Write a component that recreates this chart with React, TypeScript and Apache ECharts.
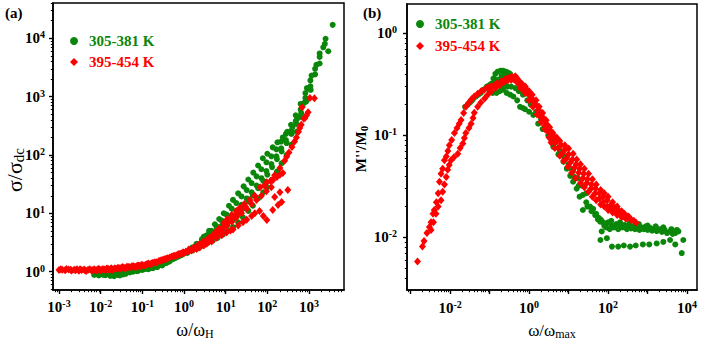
import React, { useEffect, useRef } from 'react';
import * as echarts from 'echarts';

const FONT = 'Liberation Serif';
const GREEN = '#0a870a';
const RED = '#ff0000';
const NAMES = ['305-381 K', '395-454 K'];

// ---------- tick values ----------
const xMajorA = [1e-3, 1e-2, 1e-1, 1, 10, 100, 1000];
const yMajorA = [1, 10, 100, 1000, 10000];
const xMajorB = [1e-3, 1e-2, 1e-1, 1, 10, 100, 1000, 10000];
const xLabelB = [1e-2, 1, 100, 10000];
const yMajorB = [0.01, 0.1, 1];

// ---------- panel (a): sigma / sigma_dc vs omega / omega_H ----------
const sigmaGreen: number[][] = [
  [0.007,0.88],[0.008,0.92],[0.009,0.86],[0.01,0.95],[0.011,0.9],[0.012,1.0],[0.013,0.87],[0.015,0.93],
  [0.017,0.85],[0.019,0.9],[0.021,0.84],[0.023,0.97],[0.025,0.88],[0.028,1.02],[0.03,0.92],[0.033,0.95],
  [0.037,1.0],[0.04,0.92],[0.045,1.05],[0.05,0.97],[0.055,1.08],[0.06,1.0],[0.07,1.1],[0.08,1.04],
  [0.09,1.12],[0.1,1.07],[0.12,1.15],[0.14,1.1],[0.16,1.2],[0.18,1.15],[0.2,1.22],[0.23,1.2],
  [0.26,1.3],[0.3,1.28],[0.35,1.4],[0.4,1.45],[0.45,1.5],[0.5,1.6],[0.6,1.7],[0.7,1.8],
  [0.8,1.9],[0.9,1.95],[1.0,2.05],[1.2,2.2],[1.4,2.4],[1.6,2.6],
  [0.0075,0.95],[0.0095,0.9],[0.012,0.88],[0.014,0.95],[0.016,0.9],[0.018,0.98],[0.02,0.88],[0.022,0.92],
  [0.026,0.95],[0.029,0.86],[0.035,0.9],[0.042,0.98],[0.048,1.0],[0.058,1.03],[0.065,1.05],[0.075,1.02],
  [0.085,1.08],[0.11,1.1],[0.13,1.12],[0.15,1.15],[0.17,1.18],[0.22,1.25],[0.28,1.3],[0.33,1.38],
  [0.38,1.42],[0.55,1.65],[0.65,1.75],[0.75,1.85],[0.85,1.92],
  [1.2,2.1],[1.6,2.3],[2.1,2.5],[2.8,2.8],[3.7,3.1],[4.9,3.4],[6.4,3.8],[8.5,4.3],[11,5],[15,5.8],
  [20,7],[26,8.5],[35,11],[45,13.5],[60,18],[80,23],[100,28],[130,38],[170,52],[220,72],[290,100],
  [380,150],[500,250],[600,450],[800,810],
  [2.1,2.7],[2.8,3],[3.7,3.4],[4.9,3.9],[6.4,4.5],[8.5,5.3],[11,6.3],[15,7.8],[20,9.5],[26,12],
  [35,16],[45,20],[60,27],[80,36],[100,46],[130,62],[170,85],[220,115],[290,160],[380,230],[500,340],
  [650,520],[850,820],[1100,1300],
  [1.5,2.5],[2,2.8],[2.7,3.3],[3.5,3.8],[4.6,4.4],[6,5.1],[8,6.1],[10.5,7.3],[14,9],[18,11],[24,14],
  [32,18],[42,23],[55,30],[72,40],[95,53],[125,70],[165,95],[215,130],[280,180],[370,260],[480,380],
  [630,600],[820,950],[1080,1500],[1400,2400],[1800,3700],
  [2,3],[2.7,3.6],[3.5,4.2],[4.6,5],[6,6],[8,7.5],[10.5,9.5],[14,12],[18,15],[24,19.5],[32,25],
  [42,33],[55,43],[72,57],[95,75],[125,95],[165,125],[215,170],[280,230],[370,330],[480,480],
  [630,750],[820,1150],[1080,1900],[1400,3000],[1800,4800],[2400,8000],
  [3,4],[4,5],[5.5,6.5],[7,8],[9,10],[12,13.5],[15,17],[20,22],[27,29],[35,38],[46,50],[60,66],
  [78,88],[100,105],[135,135],[175,165],[235,200],[300,250],[400,300],[520,420],[700,700],[890,1400],
  [1150,2300],[1500,3500],[1800,5500],[2200,7000],[2500,9800],[2900,6000],[3700,17000],
];

const sigmaRed: number[][] = [
  [0.001,1.07],[0.0012,1.08],[0.0014,1.06],[0.0017,1.09],[0.002,1.05],[0.0023,1.08],[0.0027,1.1],
  [0.003,1.04],[0.0035,1.07],[0.004,1.09],[0.0045,1.03],[0.005,1.08],[0.006,1.05],[0.007,1.1],
  [0.008,1.06],[0.009,1.12],[0.01,1.07],[0.012,1.1],[0.014,1.13],[0.016,1.08],[0.018,1.15],[0.02,1.1],
  [0.023,1.12],[0.026,1.17],[0.03,1.13],[0.034,1.2],[0.04,1.15],[0.045,1.22],[0.05,1.18],[0.06,1.25],
  [0.07,1.2],[0.08,1.28],[0.09,1.24],[0.1,1.3],[0.12,1.32],[0.14,1.38],[0.16,1.35],[0.18,1.42],
  [0.2,1.45],[0.25,1.52],[0.3,1.58],[0.35,1.65],[0.4,1.7],[0.5,1.8],[0.6,1.88],[0.7,1.95],[0.8,2.0],
  [0.9,2.05],[1.0,2.1],[1.2,2.2],
  [0.0011,1.1],[0.0015,1.11],[0.0019,1.08],[0.0025,1.06],[0.0032,1.1],[0.0042,1.06],[0.0055,1.1],
  [0.0065,1.07],[0.0075,1.05],[0.0085,1.09],[0.011,1.1],[0.013,1.06],[0.015,1.12],[0.017,1.1],
  [0.019,1.08],[0.022,1.15],[0.025,1.12],[0.028,1.15],[0.032,1.18],[0.037,1.16],[0.042,1.2],[0.048,1.2],
  [0.055,1.23],[0.065,1.22],[0.075,1.26],[0.085,1.25],[0.095,1.3],[0.11,1.28],[0.13,1.35],[0.15,1.33],
  [0.17,1.4],[0.22,1.45],[0.27,1.55],[0.32,1.6],[0.38,1.67],[0.45,1.75],[0.55,1.85],[0.65,1.9],
  [0.75,2.0],[0.85,2.05],[0.95,2.15],[1.1,2.2],[1.3,2.3],
  [1.5,2.3],[2,2.45],[2.4,2.6],[3,2.8],[3.5,3],[4.6,3.3],[6,3.8],[8,4.2],[10.5,4.7],[13,5.1],[15,5.3],
  [20,6.2],[26,7],[32,7.8],[42,9],[50,10],[65,11],[80,9],[97,7.7],
  [1.3,2.4],[1.7,2.6],[2.2,2.9],[2.9,3.3],[3.8,3.7],[5,4.2],[6.5,4.9],[8.5,5.7],[11,6.8],[14,8],
  [18,9.5],[23,11],[30,13],
  [1.5,2.35],[2,2.55],[2.7,2.95],[3.5,3.4],[4.6,3.9],[6,4.5],[8,5.2],[10.5,6.1],[14,7.2],[18,8.5],
  [24,10],[32,12],[42,14.5],[55,17],[72,20],[95,24],[125,28],[135,11.4],[150,19],[180,13.9],[200,23],
  [220,15.6],[310,25],
  [1.8,2.5],[2.4,2.8],[3.2,3.3],[4.2,3.9],[5.5,4.6],[7,5.5],[9,6.8],[11,8],[14,9.5],[18,11],[22,12.5],
  [28,14.5],[38,17],[50,20],[67,28],[85,30],[97,34],[120,36],[135,37],[170,42],[200,46],[235,49],
  [150,45],[200,60],[260,80],[290,93],[330,110],[390,137],[450,170],[500,200],[560,250],[600,290],
  [650,330],[680,660],[750,420],[800,430],[870,480],[950,540],[1050,950],[1350,940],
];

// ---------- panel (b): M'' / M0 vs omega / omega_max ----------
const modGreen: number[][] = [
  [0.024,0.19],[0.028,0.2],[0.032,0.21],[0.036,0.22],[0.039,0.23],[0.045,0.24],[0.052,0.25],[0.06,0.26],
  [0.07,0.28],[0.085,0.3],[0.1,0.31],[0.11,0.32],[0.125,0.36],[0.14,0.4],[0.16,0.42],[0.19,0.43],
  [0.22,0.43],[0.26,0.42],[0.3,0.41],[0.33,0.4],
  [0.1,0.27],[0.12,0.26],[0.15,0.26],[0.18,0.27],[0.22,0.28],[0.27,0.26],[0.33,0.25],[0.4,0.24],
  [0.5,0.22],[0.59,0.19],[0.7,0.185],[0.79,0.18],
  [0.2,0.3],[0.25,0.32],[0.28,0.3],[0.35,0.3],[0.45,0.29],[0.55,0.27],[0.13,0.33],[0.16,0.35],
  [0.2,0.38],[0.24,0.4],[0.28,0.38],
  [0.4,0.37],[0.5,0.34],[0.6,0.32],[0.8,0.28],[1,0.25],[1.3,0.21],[1.7,0.17],[2.2,0.14],[3,0.11],
  [4,0.09],[5.5,0.075],[7.5,0.062],[10,0.052],[13,0.045],[17,0.038],[22,0.032],[28,0.027],
  [0.6,0.27],[0.7,0.25],[0.9,0.22],[1.1,0.2],[1.5,0.17],[2,0.145],[2.6,0.12],[3.5,0.098],[4.6,0.085],
  [6,0.07],[8,0.058],[10.5,0.048],[14,0.039],[18,0.032],[23,0.026],[28,0.022],[35,0.02],[42,0.019],
  [50,0.017],[58,0.0155],[66,0.0148],[75,0.014],[85,0.0135],
  [1,0.17],[1.28,0.158],[1.7,0.13],[2.2,0.115],[3.05,0.1],[4.1,0.077],[5.5,0.065],[7.4,0.055],[9,0.047],
  [11,0.04],[13,0.035],[16,0.03],[19,0.025],[23,0.0185],[30,0.02],[38,0.018],[47,0.0165],[55,0.015],
  [63,0.0142],[69,0.0114],[64,0.0094],
  [80,0.013],[90,0.0125],[100,0.014],[110,0.012],[125,0.013],[140,0.0125],[160,0.0135],[180,0.012],
  [200,0.013],[230,0.0125],[260,0.0132],[300,0.012],[340,0.013],[380,0.0122],[430,0.0128],[480,0.012],
  [550,0.0127],[620,0.0118],[700,0.0125],[800,0.012],[900,0.0128],[1000,0.0118],[1150,0.0124],
  [1300,0.0116],[1500,0.0122],[1700,0.0115],[2000,0.012],[2300,0.0113],[2700,0.0118],[3100,0.011],
  [3700,0.0114],[4300,0.0108],[5000,0.011],[6000,0.0114],[8000,0.0094],[7300,0.007],
  [93,0.0098],[125,0.0081],[180,0.0081],[250,0.0083],[360,0.0081],[500,0.0083],[760,0.0085],
  [1100,0.0085],[1700,0.0087],[2500,0.009],[3700,0.0094],[5000,0.0085],
  [120,0.0145],[200,0.014],[350,0.0138],[600,0.0135],[1000,0.013],[1600,0.0128],[2500,0.0125],
  [4000,0.012],[5500,0.0118],
];

const modRed: number[][] = [
  [0.0015,0.0058],[0.002,0.0081],[0.0022,0.0092],[0.0026,0.011],[0.003,0.0126],[0.0033,0.014],
  [0.0037,0.017],[0.004,0.0185],[0.0045,0.022],[0.005,0.027],[0.0054,0.035],[0.0059,0.042],
  [0.0065,0.047],[0.0072,0.057],[0.008,0.062],[0.0088,0.07],[0.0096,0.08],[0.011,0.09],[0.0129,0.105],
  [0.015,0.118],[0.017,0.13],[0.019,0.141],[0.022,0.165],[0.025,0.19],[0.03,0.21],[0.035,0.225],
  [0.041,0.24],[0.05,0.255],[0.06,0.268],[0.073,0.28],[0.09,0.295],[0.11,0.3],[0.13,0.31],[0.16,0.31],
  [0.2,0.33],[0.25,0.34],[0.3,0.35],[0.35,0.35],
  [0.0033,0.0118],[0.0038,0.014],[0.0044,0.017],[0.005,0.02],[0.0059,0.023],[0.0065,0.028],
  [0.0072,0.033],[0.008,0.039],[0.0087,0.046],[0.0095,0.051],[0.0106,0.057],[0.0125,0.061],
  [0.0157,0.066],[0.018,0.075],[0.021,0.083],[0.023,0.094],[0.025,0.105],[0.03,0.118],[0.034,0.13],
  [0.038,0.148],[0.041,0.166],[0.05,0.19],[0.06,0.21],[0.075,0.23],[0.09,0.25],[0.11,0.27],[0.14,0.29],
  [0.18,0.31],[0.22,0.33],[0.28,0.36],[0.35,0.37],[0.42,0.37],
  [0.15,0.32],[0.2,0.34],[0.25,0.355],[0.3,0.36],[0.38,0.37],[0.45,0.38],[0.5,0.36],
  [0.45,0.36],[0.55,0.34],[0.65,0.32],[0.8,0.3],[1,0.27],[1.2,0.25],[1.5,0.22],[1.8,0.19],[2.2,0.165],
  [2.7,0.14],[3.3,0.12],[4,0.105],[5,0.095],[6,0.088],[8,0.08],[10,0.074],[13,0.066],[16,0.058],
  [20,0.052],[25,0.047],[32,0.042],[40,0.037],[50,0.033],[65,0.029],[80,0.027],[100,0.025],
  [130,0.022],[170,0.02],[220,0.018],[260,0.017],[330,0.016],
  [0.4,0.355],[0.5,0.35],[0.6,0.33],[0.7,0.31],[0.85,0.285],[1.05,0.25],[1.3,0.22],[1.6,0.195],
  [1.9,0.17],[2.3,0.148],[2.8,0.128],[3.4,0.112],[4.2,0.098],[5.2,0.088],[6.5,0.08],[8,0.072],
  [10,0.065],[12.5,0.058],[15.5,0.052],[19,0.047],[24,0.042],[30,0.037],[38,0.033],[48,0.03],
  [60,0.027],[75,0.025],[95,0.023],[120,0.021],[150,0.0195],[190,0.0182],[240,0.017],[300,0.016],
  [370,0.0152],[450,0.0145],
  [0.5,0.33],[0.6,0.31],[0.75,0.28],[0.9,0.26],[1.1,0.23],[1.35,0.2],[1.65,0.175],[2,0.15],[2.5,0.125],
  [3,0.108],[3.6,0.095],[4.5,0.085],[5.5,0.075],[7,0.067],[9,0.06],[11,0.054],[14,0.048],[18,0.043],
  [23,0.038],[29,0.034],[37,0.03],[47,0.027],[60,0.024],[75,0.022],[95,0.02],[120,0.019],[150,0.018],
  [190,0.017],[240,0.0162],[300,0.0155],[380,0.0148],[510,0.0139],
  [0.6,0.29],[0.8,0.26],[1,0.22],[1.25,0.19],[1.6,0.16],[2,0.135],[2.5,0.115],[3.2,0.095],[3.6,0.085],
  [4.5,0.075],[6,0.063],[7.5,0.056],[9.6,0.049],[12,0.043],[15,0.038],[20,0.034],[25,0.031],[32,0.028],
  [40,0.025],[50,0.023],[65,0.021],[80,0.02],[100,0.0185],[130,0.0175],[170,0.0165],[220,0.0158],
  [280,0.0152],
];

// axis ranges (log10 extents)
const xRangeA = [Math.pow(10, -3.144), Math.pow(10, 3.84)];
const yRangeA = [Math.pow(10, -0.314), Math.pow(10, 4.605)];
const xRangeB = [Math.pow(10, -3.09), Math.pow(10, 4.25)];
const yRangeB = [Math.pow(10, -2.517), Math.pow(10, 0.287)];

function minorTicks(e0: number, e1: number): number[] {
  const out: number[] = [];
  for (let e = e0; e <= e1; e++) for (let k = 2; k <= 9; k++) out.push(k * Math.pow(10, e));
  return out;
}

const labelRich = {
  b: { fontFamily: FONT, fontWeight: 'bold', fontSize: 15, lineHeight: 17, color: '#000' },
  s: { fontFamily: FONT, fontWeight: 'bold', fontSize: 10, lineHeight: 10, verticalAlign: 'top', color: '#000' },
};
const decade = (v: number) => `{b|10}{s|${Math.round(Math.log10(v))}}`;

function axisPair(grid: number, range: number[], major: number[], labels: number[], minor: number[], margin: number, pos: string) {
  const base = { gridIndex: grid, type: 'log', logBase: 10, min: range[0], max: range[1], position: pos, splitLine: { show: false } };
  return [
    {
      ...base,
      axisLine: { show: true, lineStyle: { color: '#000', width: 1.6 } },
      axisTick: { show: true, inside: false, length: 4, customValues: major, lineStyle: { color: '#000', width: 1.4 } },
      axisLabel: { show: true, customValues: labels, formatter: decade, rich: labelRich, margin, showMinLabel: true, showMaxLabel: true },
    },
    {
      ...base,
      axisLine: { show: false },
      axisTick: { show: true, inside: false, length: 2.2, customValues: minor, lineStyle: { color: '#000', width: 1 } },
      axisLabel: { show: false },
    },
  ];
}

export default function App() {
  const ref = useRef<HTMLDivElement>(null);
  useEffect(() => {
    if (!ref.current) return;
    const chart = echarts.init(ref.current, null, { renderer: 'svg' });
    const legendData = [
      { name: NAMES[0], icon: 'circle', itemStyle: { color: GREEN, opacity: 1 }, textStyle: { color: GREEN } },
      { name: NAMES[1], icon: 'diamond', itemStyle: { color: RED, opacity: 1 }, textStyle: { color: RED } },
    ];
    const legendCommon = {
      orient: 'vertical', padding: 0, itemWidth: 8, itemHeight: 8, selectedMode: false,
      textStyle: { fontFamily: FONT, fontWeight: 'bold', fontSize: 15, lineHeight: 16, padding: [0, 0, 0, 6] },
      data: legendData,
    };
    const option: any = {
      animation: false,
      textStyle: { fontFamily: FONT },
      grid: [
        { left: 53, top: 3, right: 358, bottom: 53, show: true, borderColor: '#000', borderWidth: 1.5, containLabel: false, outerBoundsMode: 'none' },
        { left: 407, top: 4, right: 5, bottom: 53, show: true, borderColor: '#000', borderWidth: 1.5, containLabel: false, outerBoundsMode: 'none' },
      ],
      xAxis: [
        ...axisPair(0, xRangeA, xMajorA, xMajorA, minorTicks(-4, 3), 8, 'bottom'),
        ...axisPair(1, xRangeB, xMajorB, xLabelB, minorTicks(-4, 4), 9, 'bottom'),
      ],
      yAxis: [
        ...axisPair(0, yRangeA, yMajorA, yMajorA, minorTicks(-1, 4), 8, 'left'),
        ...axisPair(1, yRangeB, yMajorB, yMajorB, minorTicks(-3, 0), 10, 'left'),
      ],
      legend: [
        { ...legendCommon, left: 70, top: 33, itemGap: 5 },
        { ...legendCommon, left: 416, top: 16, itemGap: 6 },
      ],
      series: [
        { name: NAMES[0], type: 'scatter', xAxisIndex: 0, yAxisIndex: 0, data: sigmaGreen, symbol: 'circle', symbolSize: 6, itemStyle: { color: GREEN, opacity: 1 } },
        { name: NAMES[1], type: 'scatter', xAxisIndex: 0, yAxisIndex: 0, data: sigmaRed, symbol: 'diamond', symbolSize: [7, 8], itemStyle: { color: RED, opacity: 1 } },
        { name: NAMES[0], type: 'scatter', xAxisIndex: 2, yAxisIndex: 2, data: modGreen, symbol: 'circle', symbolSize: 6, itemStyle: { color: GREEN, opacity: 1 } },
        { name: NAMES[1], type: 'scatter', xAxisIndex: 2, yAxisIndex: 2, data: modRed, symbol: 'diamond', symbolSize: [7, 8], itemStyle: { color: RED, opacity: 1 } },
      ],
      graphic: [
        { type: 'text', left: 5, top: 5, style: { text: '(a)', fontFamily: FONT, fontWeight: 'bold', fontSize: 15, fill: '#000' } },
        { type: 'text', left: 363, top: 5, style: { text: '(b)', fontFamily: FONT, fontWeight: 'bold', fontSize: 15, fill: '#000' } },
        {
          type: 'text', x: 14, y: 170, rotation: Math.PI / 2,
          style: {
            text: '{m|σ/σ}{d|dc}', align: 'center', verticalAlign: 'middle', fill: '#000',
            rich: {
              m: { fontFamily: FONT, fontSize: 22, lineHeight: 24, fill: '#000' },
              d: { fontFamily: FONT, fontSize: 15, lineHeight: 15, verticalAlign: 'bottom', fill: '#000' },
            },
          },
        },
        {
          type: 'text', x: 195, y: 330,
          style: {
            text: '{m|ω/ω}{d|H}', align: 'center', verticalAlign: 'middle', fill: '#000',
            rich: {
              m: { fontFamily: FONT, fontSize: 18, lineHeight: 20, fill: '#000' },
              d: { fontFamily: FONT, fontSize: 12, lineHeight: 12, verticalAlign: 'bottom', fill: '#000' },
            },
          },
        },
        {
          type: 'text', x: 361, y: 149, rotation: Math.PI / 2,
          style: {
            text: "{m|M''/M}{d|0}", align: 'center', verticalAlign: 'middle', fill: '#000',
            rich: {
              m: { fontFamily: FONT, fontWeight: 'bold', fontSize: 15, lineHeight: 17, fill: '#000' },
              d: { fontFamily: FONT, fontWeight: 'bold', fontSize: 11, lineHeight: 11, verticalAlign: 'bottom', fill: '#000' },
            },
          },
        },
        {
          type: 'text', x: 552, y: 330,
          style: {
            text: '{m|ω/ω}{d|max}', align: 'center', verticalAlign: 'middle', fill: '#000',
            rich: {
              m: { fontFamily: FONT, fontSize: 17, lineHeight: 19, fill: '#000' },
              d: { fontFamily: FONT, fontSize: 12, lineHeight: 12, verticalAlign: 'bottom', fill: '#000' },
            },
          },
        },
      ],
    };
    chart.setOption(option);
    return () => chart.dispose();
  }, []);
  return <div ref={ref} style={{ position: 'absolute', left: 0, top: 0, width: 702, height: 343, background: '#fff' }} />;
}
